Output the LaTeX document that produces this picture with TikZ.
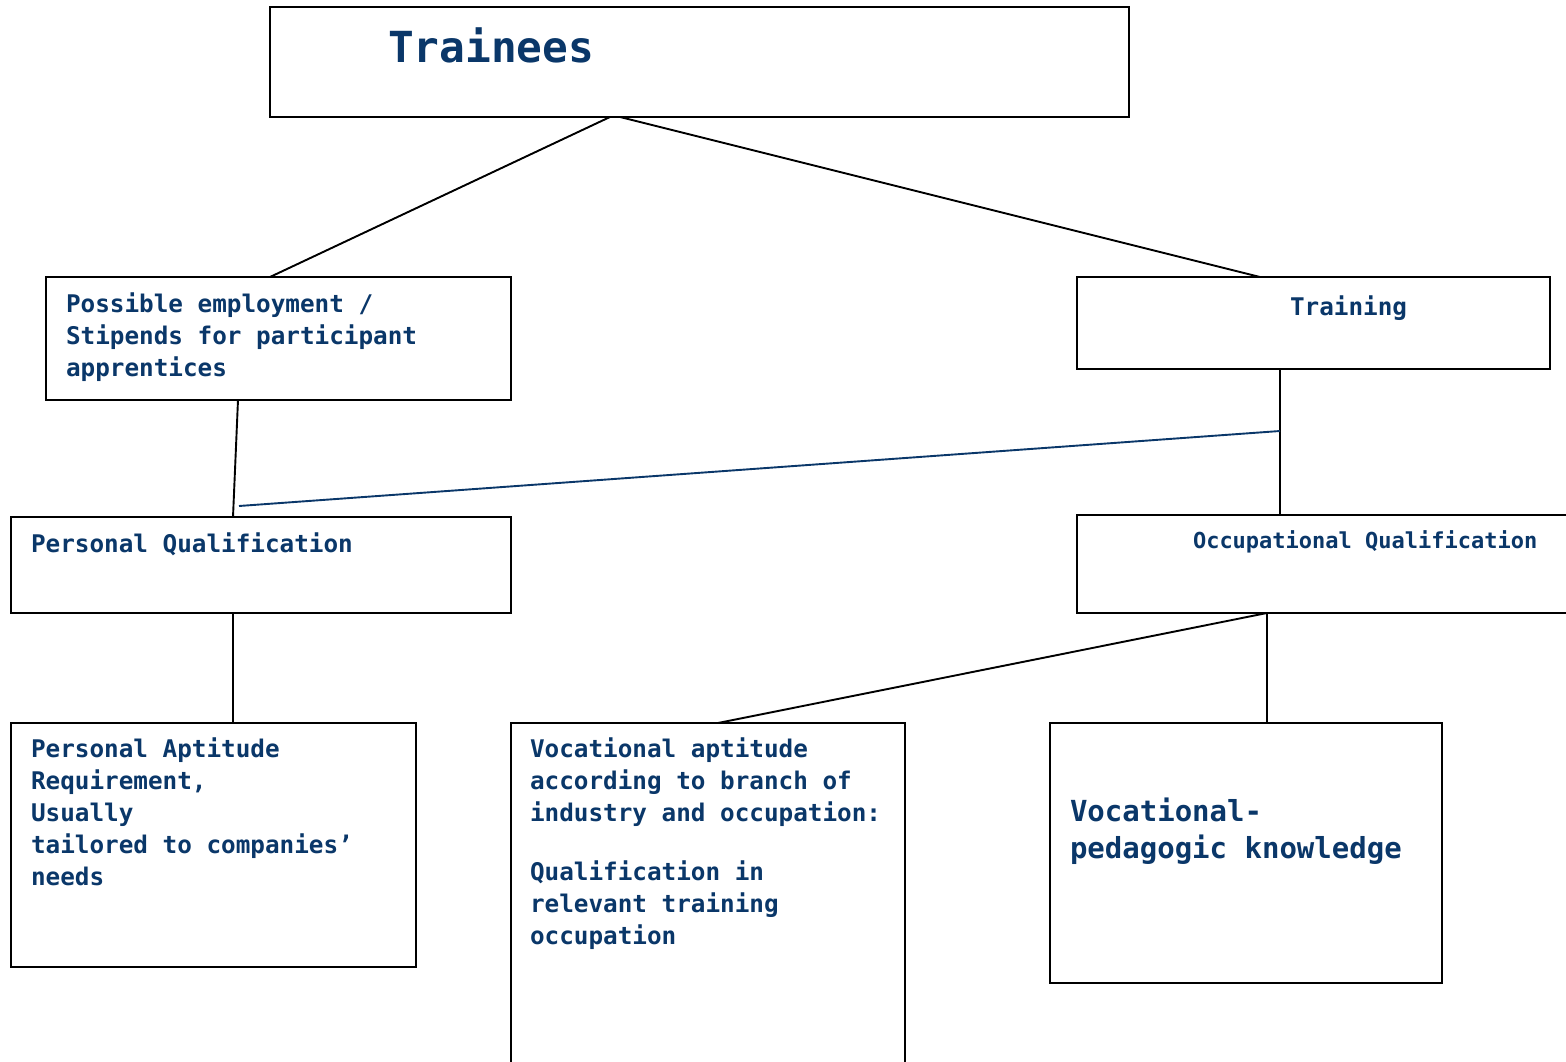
\documentclass[tikz,border=0pt]{standalone}
\usepackage{fontspec}
\setmonofont{DejaVu Sans Mono}
\usetikzlibrary{calc}
\definecolor{txt}{RGB}{10,55,105}
\begin{document}
\begin{tikzpicture}[x=1pt,y=-1pt,
  box/.style={draw=black,line width=2.2pt,rectangle,inner sep=0pt,outer sep=0pt,anchor=north west,fill=none},
  conn/.style={draw=black,line width=1.9pt},
  blueconn/.style={draw=txt,line width=1.9pt},
  lbl/.style={anchor=base west,inner sep=0pt,outer sep=0pt,text=txt,align=left},
  fs/.style={font=\ttfamily\bfseries\fontsize{24.3}{32}\selectfont},
  fsocc/.style={font=\ttfamily\bfseries\fontsize{22}{28}\selectfont},
  fsbig/.style={font=\ttfamily\bfseries\fontsize{29}{37}\selectfont},
  fstitle/.style={font=\ttfamily\bfseries\fontsize{42.8}{50}\selectfont}]
\clip (0,0) rectangle (1566,1062);
\fill[white] (0,0) rectangle (1566,1062);
% boxes
\node[box,minimum width=859pt,minimum height=110pt] (trainees) at (270,7) {};
\node[box,minimum width=465pt,minimum height=123pt] (poss) at (46,277) {};
\node[box,minimum width=473pt,minimum height=92pt] (training) at (1077,277) {};
\node[box,minimum width=500pt,minimum height=96pt] (pq) at (11,517) {};
\node[box,minimum width=510pt,minimum height=98pt] (occ) at (1077,515) {};
\node[box,minimum width=405pt,minimum height=244pt] (pa) at (11,723) {};
\node[box,minimum width=394pt,minimum height=360pt] (va) at (511,723) {};
\node[box,minimum width=392pt,minimum height=260pt] (vp) at (1050,723) {};
% texts (base anchor = baseline of the last line)
\node[lbl,fstitle] (ttrainees) at (388,63) {Trainees};
\node[lbl,fs] (tposs) at (66,376) {Possible employment /\\Stipends for participant\\apprentices};
\node[lbl,fs] (ttraining) at (1290,315) {Training};
\node[lbl,fs] (tpq) at (31,552) {Personal Qualification};
\node[lbl,fsocc] (tocc) at (1193,548) {Occupational Qualification};
\node[lbl,fs] (tpa) at (31,885) {Personal Aptitude\\Requirement,\\Usually\\tailored to companies’\\needs};
\node[lbl,fs] (tva) at (530,944) {Vocational aptitude\\according to branch of\\industry and occupation:\\[27pt]Qualification in\\relevant training\\occupation};
\node[lbl,fsbig] (tvp) at (1070,858) {Vocational-\\pedagogic knowledge};
% connectors
\draw[conn] ($(trainees.south west)+(340,0)$) -- ($(poss.north west)+(224,0)$);
\draw[conn] ($(trainees.south west)+(350,0)$) -- ($(training.north west)+(183,0)$);
\draw[conn] ($(poss.south west)+(192,0)$) -- ($(pq.north west)+(222,0)$);
\draw[conn] ($(training.south west)+(203,0)$) -- ($(occ.north west)+(203,0)$);
\coordinate (bl1) at (1280,431);
\coordinate (bl2) at (239,506);
\draw[blueconn] (bl1) -- (bl2);
\draw[conn] ($(pq.south west)+(222,0)$) -- ($(pa.north west)+(222,0)$);
\draw[conn] ($(occ.south west)+(190,0)$) -- ($(va.north west)+(207,0)$);
\draw[conn] ($(occ.south west)+(190,0)$) -- ($(vp.north west)+(217,0)$);
\end{tikzpicture}
\end{document}
